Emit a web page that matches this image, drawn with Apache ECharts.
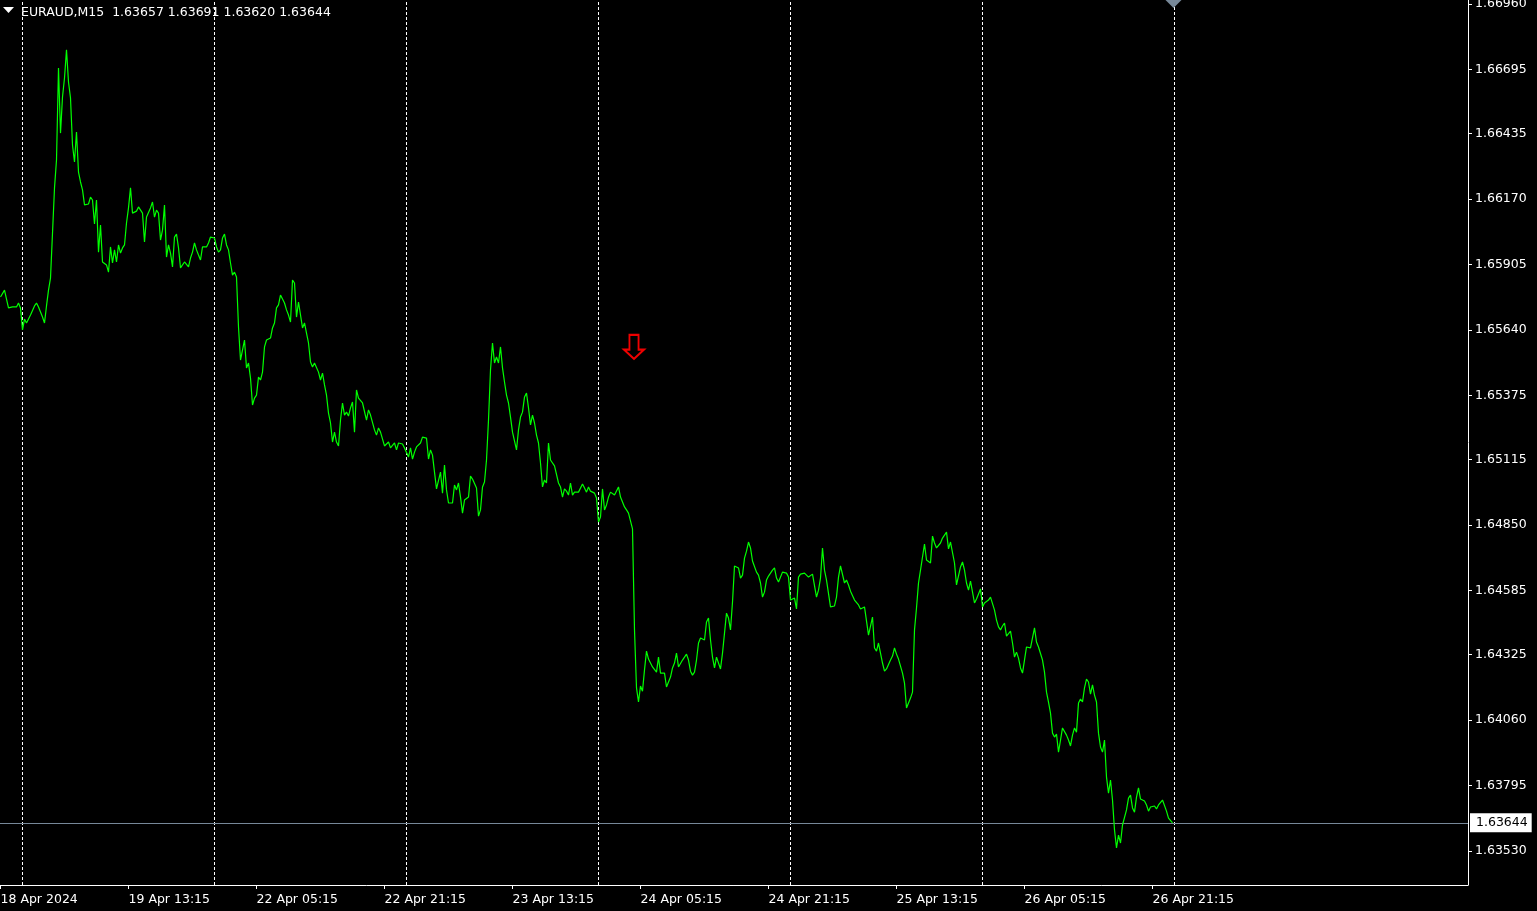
<!DOCTYPE html>
<html><head><meta charset="utf-8">
<style>html,body{margin:0;padding:0;background:#000;overflow:hidden}#c{width:1537px;height:911px}</style>
<script src="https://cdn.jsdelivr.net/npm/echarts@6/dist/echarts.min.js"></script>
</head><body><div id="c"></div>
<script>
const heading = "EURAUD,M15  1.63657 1.63691 1.63620 1.63644";
const priceTicks = [1.66960,1.66695,1.66435,1.66170,1.65905,1.65640,1.65375,1.65115,1.64850,1.64585,1.64325,1.64060,1.63795,1.63530];
const timeLabels = ["18 Apr 2024","19 Apr 13:15","22 Apr 05:15","22 Apr 21:15","23 Apr 13:15","24 Apr 05:15","24 Apr 21:15","25 Apr 13:15","26 Apr 05:15","26 Apr 21:15"];
const timeLabelBars = [0,64,128,192,256,320,384,448,512,576];
const separatorBars = [11,107,203,299,395,491,587];
const lastPrice = 1.63644;
const sellArrow = [316.75, 1.65571];
// M15 closes, in 1/100000 price units
const closes1 = [165773,165773,165801,165765,165729,165725,165733,165725,165733,165749,165729,165640,165684,165668,165672,165700,165708,165737,165749,165733,165729,165692,165668,165737,165801,165850,166032,166215,166328,166701,166437,166583,166660,166774,166644,166579,166389,166320,166441,166279,166239,166207,166146,166146,166150,166178,166166,166069,166166,165955,166065,165915,165911,165903,165874,165976,165911,165964,165915,165984,165951,165972,165984,166073,166134,166215,166113,166117,166121,166138,166138,166113,165996,166097,166093,166134,166158,166097,166125,166113,166004,166044,166146,165935,165984,165951,165895,166016,166028,165972,165891,165891,165915,165907,165895,165931,165955,165992,165964,165943,165923,165976,165984,165976,165992,166016,166024,166012,165976,165955,165964,166012,166028,165984,165964,165911,165862,165874,165854,165652];
const closes2 = [165518,165526,165599,165486,165506,165445,165336,165364,165376,165449,165437,165469,165571,165599,165607,165607,165648,165668,165729,165741,165781,165785,165749,165721,165700,165672,165842,165830,165692,165753,165757,165648,165668,165627,165587,165510,165490,165506,165510,165469,165437,165465,165417,165376,165303,165263,165186,165226,165186,165170,165275,165344,165295,165307,165291,165324,165348,165226,165397,165364,165364,165344,165340,165275,165316,165295,165287,165235,165214,165243,165226,165226,165170,165178,165186,165162,165166,165182,165154,165182,165182,165178,165162,165166,165125,165162,165117,165145,165166,165166,165182,165206,165210,165202,165117,165154,165133,165064,164996,164996,165064,164979,165093,164992,164939,164931,164939,165012,164992,165020,164963,164898,164951,164951,164963,165048,165036,165044,165000,164886];
const closes3 = [164911,165004,165024,165113,165275,165478,165587,165506,165530,165506,165571,165486,165429,165376,165344,165287,165226,165222,165154,165235,165287,165307,165368,165384,165324,165255,165295,165263,165214,165182,165101,165004,165032,165020,165182,165113,165105,165089,165089,165020,165004,164963,164996,164987,164971,165020,164971,164983,164979,164983,164979,165016,165000,164983,165004,164987,164992,164979,164959,164862,164882,164996,164911,164931,164963,164983,164975,164971,164963,165004,164963,164943,164923,164911,164898,164898,164834,164425,164190,164133,164198,164177,164263,164339,164307,164299,164275,164271,164254,164315,164250,164254,164250,164194,164186,164234,164271,164291,164331,164275,164283,164303,164311,164327,164303,164258,164242,164254,164303,164372,164392,164400,164384,164457,164473,164384,164315,164271,164315,164315];
const closes4 = [164267,164331,164412,164493,164473,164425,164538,164684,164684,164676,164635,164647,164716,164744,164781,164757,164704,164700,164659,164647,164615,164558,164578,164627,164643,164655,164667,164676,164635,164619,164611,164659,164667,164655,164639,164546,164538,164554,164510,164639,164651,164651,164655,164651,164639,164647,164651,164651,164558,164586,164635,164757,164667,164627,164619,164518,164522,164522,164558,164639,164684,164676,164615,164627,164607,164582,164578,164546,164538,164526,164510,164514,164518,164526,164404,164404,164477,164352,164339,164372,164376,164291,164258,164267,164267,164303,164319,164352,164327,164307,164303,164250,164210,164109,164129,164149,164173,164425,164514,164615,164667,164659,164773,164708,164704,164696,164805,164777,164757,164757,164777,164797,164801,164821,164753,164781,164781,164696,164607,164607];
const closes5 = [164680,164700,164667,164615,164586,164623,164623,164534,164550,164550,164591,164518,164534,164538,164546,164558,164562,164505,164465,164437,164425,164441,164453,164400,164408,164420,164372,164315,164335,164311,164271,164250,164246,164356,164352,164352,164360,164433,164376,164356,164356,164303,164254,164173,164133,164088,164007,163991,164003,163930,163979,164028,164036,163999,163979,163955,163999,164028,164011,164129,164145,164133,164190,164226,164214,164165,164202,164161,164133,164007,163951,163930,163979,163829,163764,163817,163736,163615,163542,163594,163562,163635,163635,163696,163744,163756,163704,163687,163748,163785,163740,163748,163732,163716,163691,163708,163708,163712,163700,163716,163716,163736,163736,163691,163663,163659,163644];

const closes = [...closes1,...closes2,...closes3,...closes4,...closes5];
const xMin = -0.25, xMax = 733.75;
const font = '"DejaVu Sans"', fs = 12.5;
const chart = echarts.init(document.getElementById('c'), null, {renderer:'canvas'});
chart.setOption({
  animation:false,
  backgroundColor:'#000',
  title:{text:heading,left:21,top:6,padding:0,textStyle:{color:'#fff',fontFamily:font,fontSize:fs,fontWeight:'normal'}},
  graphic:[{type:'polygon',shape:{points:[[3,7],[14,7],[8.5,13]]},style:{fill:'#fff'}}],
  grid:{left:0,right:69,top:0,bottom:26,outerBoundsMode:'none'},
  xAxis:{type:'value',min:xMin,max:xMax,
    axisLine:{show:true,onZero:false,lineStyle:{color:'#fff',width:1}},
    axisTick:{show:true,length:4,customValues:timeLabelBars,lineStyle:{color:'#fff'}},
    splitLine:{show:false},
    axisLabel:{customValues:timeLabelBars,color:'#fff',fontFamily:font,fontSize:fs,align:'left',margin:8,
      formatter:v=>timeLabels[timeLabelBars.indexOf(Math.round(v))]||''}},
  yAxis:{type:'value',position:'right',min:1.63392,max:1.66976,
    axisLine:{show:true,onZero:false,lineStyle:{color:'#fff',width:1}},
    axisTick:{show:true,length:4,customValues:priceTicks,lineStyle:{color:'#fff'}},
    splitLine:{show:false},
    axisLabel:{customValues:priceTicks,color:'#fff',fontFamily:font,fontSize:fs,margin:7,padding:[2,0,0,0],
      formatter:v=>v.toFixed(5)}},
  series:[
   {type:'line',silent:true,symbol:'none',z:3,data:closes.map((c,i)=>[i,c/100000]),
    lineStyle:{color:'#00ff00',width:1.2},
    markLine:{silent:true,symbol:'none',animation:false,z:2,
      data:separatorBars.map(b=>({xAxis:b,label:{show:false},lineStyle:{color:'#fff',type:[3,2],width:1}}))
       .concat([[{coord:[xMin,lastPrice],lineStyle:{color:'#778899',type:'solid',width:1},
         label:{show:true,position:'end',distance:2,formatter:lastPrice.toFixed(5),color:'#000',backgroundColor:'#fff',
           fontFamily:font,fontSize:fs,padding:[4,4,2,6]}},{coord:[xMax,lastPrice]}]])},
    markPoint:{silent:true,animation:false,label:{show:false},
      data:[
       {coord:[586.5,1.66976],symbol:'diamond',symbolSize:[16,16],itemStyle:{color:'#778899'}},
       {coord:sellArrow,symbol:'path://M6 0H16V16H22L11 26L0 16H6Z',symbolSize:[20,24],symbolKeepAspect:false,
        itemStyle:{color:'rgba(0,0,0,0)',borderColor:'#f00000',borderWidth:2}}
      ]}
   }
  ]
});
</script></body></html>
